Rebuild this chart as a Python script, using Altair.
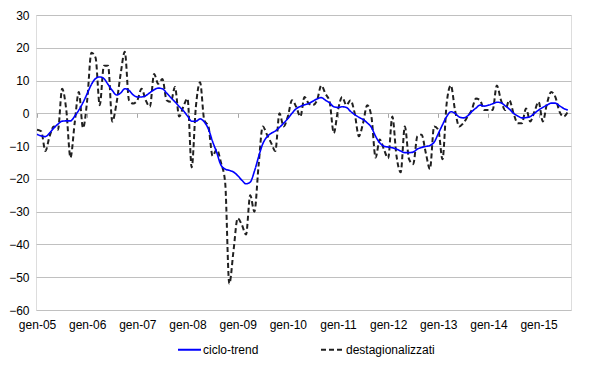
import altair as alt
import pandas as pd

# Monthly series, Jan 2005 (index 0) .. Aug 2015 (index 127)
ciclo_trend = [
    -6.4, -6.9, -7.1, -6.0, -4.5, -3.3, -2.4, -2.3, -2.3, -0.9, 1.0, 3.3,
    6.0, 8.8, 10.6, 11.1, 10.6, 8.8, 7.0, 5.6, 6.2, 7.5, 7.0, 5.6,
    5.0, 5.0, 5.4, 6.3, 7.2, 7.7, 7.5, 6.2, 4.8, 3.5, 2.1, 0.8,
    -0.8, -2.4, -2.4, -1.7, -2.6, -4.8, -8.6, -12.0, -15.8, -17.0, -17.4, -17.9,
    -19.0, -20.4, -21.5, -21.0, -17.7, -13.3, -9.3, -7.2, -6.1, -5.4, -4.3, -3.0,
    -1.6, 0.0, 1.4, 2.1, 2.6, 3.0, 3.7, 4.4, 4.8, 4.0, 3.2, 2.0,
    1.8, 2.0, 1.8, 0.6, -0.4, -1.2, -1.9, -2.9, -4.3, -7.0, -9.0, -10.0,
    -10.3, -10.5, -10.9, -11.5, -12.0, -12.0, -11.8, -10.9, -10.4, -10.1, -9.8, -8.8,
    -6.2, -3.5, -1.0, 0.5, 0.0, -1.1, -1.4, -0.8, 0.5, 1.6, 2.5, 2.2,
    2.5, 2.9, 3.4, 3.2, 2.3, 1.3, 0.0, -0.8, -1.4, -1.3, -1.0, 0.0,
    1.0, 1.8, 2.5, 3.1, 3.1, 2.3, 1.5, 1.0,
]
destagionalizzati = [
    -5.0, -5.5, -11.5, -7.0, -4.0, -5.0, 7.5, 1.0, -13.5, -3.0, 6.5, -4.5,
    4.0, 18.5, 17.0, 2.5, 14.5, 14.5, -2.5, 3.0, 12.0, 18.8, 4.0, 3.0,
    4.0, 7.5, 4.0, 2.0, 12.0, 9.0, 10.5, 4.0, 3.5, 8.0, -1.0, 2.0,
    4.5, -16.5, 2.0, 9.5, -2.0, -4.0, -13.0, -11.0, -15.0, -21.0, -52.0, -42.0,
    -32.0, -34.0, -37.0, -25.0, -30.0, -16.0, -4.0, -6.5, -9.0, -11.5, 0.0, -4.0,
    -1.0, 4.0, 2.0, -1.0, 5.0, 3.0, 2.5, 4.0, 8.5, 6.0, 3.5, -6.0,
    1.0, 5.0, 2.5, 4.0, 0.0, -7.0, -3.0, 2.5, -1.0, -13.5, -8.0, -11.0,
    -13.7, -1.0, -13.0, -18.0, -4.0, -14.0, -15.5, -7.0, -6.5, -12.0, -17.0, -4.0,
    -5.0, -14.0, 3.0, 8.5, 1.0, -4.0, -3.0, -1.0, 1.0, 4.5, 4.0, 1.0,
    1.0, 1.0, 8.5, 4.0, 1.0, 4.0, 0.0, -3.0, -3.0, 1.5, -2.5, 0.5,
    3.5, -2.5, 3.0, 6.5, 5.0, 0.5, -1.0, 0.5,
]
series_names = ["ciclo-trend", "destagionalizzati"]
series_colors = ["#0000ff", "#202020"]
year_ticks = list(range(0, 121, 12))   # January of each year, 2005..2015
y_ticks = list(range(-60, 31, 10))

rows = []
for i, v in enumerate(ciclo_trend):
    rows.append({"m": i, "v": v, "serie": series_names[0]})
for i, v in enumerate(destagionalizzati):
    rows.append({"m": i, "v": v, "serie": series_names[1]})
df = pd.DataFrame(rows)

FONT = "Liberation Sans"
label_expr = "'gen-' + (datum.value/12 + 5 < 10 ? '0' : '') + (datum.value/12 + 5)"

legend = alt.Legend(
    title=None, orient="none", legendX=141, legendY=322, direction="horizontal",
    symbolType="stroke", symbolSize=529, symbolStrokeWidth=2, labelFont=FONT,
    labelFontSize=12, labelColor="#000000", labelOffset=1, columnPadding=58,
    padding=0,
)
color = alt.Color("serie:N", scale=alt.Scale(domain=series_names, range=series_colors), legend=legend)
dash = alt.StrokeDash("serie:N", scale=alt.Scale(domain=series_names, range=[[1, 0], [5, 3]]), legend=legend)

yenc = alt.Y("v:Q", scale=alt.Scale(domain=[-60, 30], nice=False, zero=False),
             axis=alt.Axis(values=y_ticks, title=None, grid=True, gridColor="#c0c0c0",
                           ticks=False, domain=False, labelPadding=7, labelFont=FONT,
                           labelFontSize=12, labelColor="#000000"))
xscale = alt.Scale(domain=[-0.25, 127.75], nice=False, zero=False)

dashed = alt.Chart(df).transform_filter(alt.datum.serie == series_names[1]).mark_line(
    strokeWidth=2, interpolate="monotone").encode(
    x=alt.X("m:Q", scale=xscale,
            axis=alt.Axis(values=year_ticks, labelExpr=label_expr, title=None, grid=False,
                          ticks=False, tickSize=0, domain=False, labelPadding=9,
                          labelFont=FONT, labelFontSize=12, labelColor="#000000",
                          labelFlush=False, labelOverlap=False)),
    y=yenc, color=color, strokeDash=dash,
)
trend = alt.Chart(df).transform_filter(alt.datum.serie == series_names[0]).mark_line(
    strokeWidth=1.6, interpolate="monotone").encode(
    x=alt.X("m:Q", scale=xscale,
            axis=alt.Axis(values=year_ticks, labels=False, title=None, grid=False,
                          ticks=True, tickSize=4, tickColor="#a6a6a6", domain=False,
                          orient="bottom", offset=-196.667)),
    y=yenc, color=color, strokeDash=dash,
)

chart = alt.layer(dashed, trend).resolve_axis(x="independent").properties(
    width=535, height=295, autosize="none",
    padding={"left": 28, "top": 7, "right": 21, "bottom": 47},
).configure_view(stroke="#a6a6a6", strokeWidth=1).configure(background="white")

chart.save("out.html", embed_options={"renderer": "svg", "actions": False})
